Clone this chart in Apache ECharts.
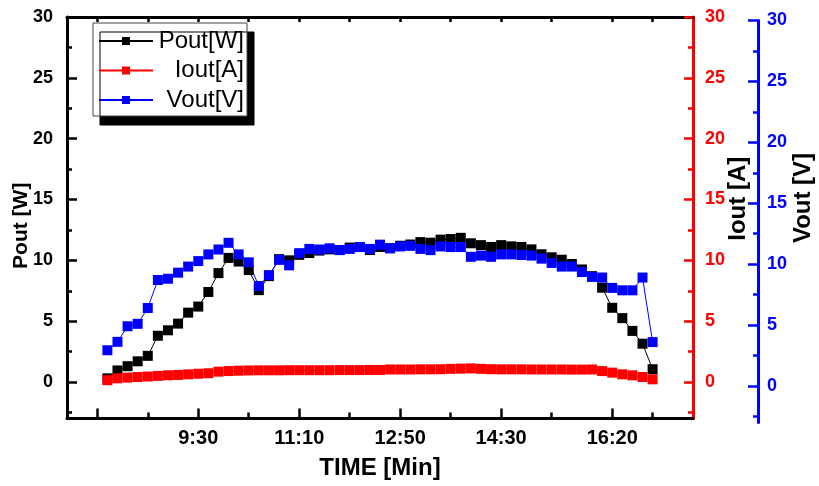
<!DOCTYPE html>
<html><head><meta charset="utf-8">
<script src="https://cdn.jsdelivr.net/npm/echarts@6/dist/echarts.min.js"></script>
<style>html,body{margin:0;padding:0;background:#fff}#c{width:819px;height:486px}</style>
</head><body><div id="c"></div>
<script>
const timeLabels = ["8:00","8:10","8:20","8:30","8:40","8:50","9:00","9:10","9:20","9:30","9:40","9:50",
  "10:00","10:10","10:20","10:30","10:40","10:50","11:00","11:10","11:20","11:30","11:40","11:50",
  "12:00","12:10","12:20","12:30","12:40","12:50","13:00","13:10","13:20","13:30","13:40","13:50",
  "14:00","14:10","14:20","14:30","14:40","14:50","15:00","15:10","15:20","15:30","15:40","15:50",
  "16:00","16:10","16:20","16:30","16:40","16:50","17:00"];
const pout = [0.3,0.95,1.3,1.7,2.15,3.8,4.25,4.8,5.7,6.2,7.4,8.95,
  10.2,9.9,9.2,7.55,8.7,10.1,10.0,10.45,10.6,10.8,10.9,10.85,
  11.05,11.1,10.85,11.1,11.0,11.2,11.3,11.5,11.45,11.7,11.75,11.85,
  11.4,11.25,11.1,11.25,11.15,11.1,10.9,10.5,10.25,10.05,9.7,9.25,
  8.7,7.75,6.1,5.25,4.2,3.15,1.05];
const iout = [0.15,0.3,0.36,0.41,0.45,0.5,0.55,0.58,0.63,0.68,0.72,0.85,
  0.9,0.93,0.95,0.96,0.96,0.96,0.97,0.97,0.97,0.97,0.97,0.98,
  0.98,0.98,0.99,0.99,1.03,1.03,1.03,1.04,1.04,1.05,1.08,1.1,
  1.12,1.08,1.05,1.04,1.04,1.04,1.03,1.03,1.03,1.03,1.02,1.02,
  1.03,0.9,0.77,0.63,0.55,0.41,0.22];
const vout = [2.93,3.62,4.9,5.1,6.4,8.7,8.8,9.3,9.8,10.25,10.8,11.2,
  11.75,10.8,10.15,8.2,9.1,10.35,9.9,10.9,11.25,11.2,11.3,11.15,
  11.25,11.4,11.25,11.6,11.3,11.45,11.5,11.25,11.15,11.45,11.4,11.4,
  10.6,10.7,10.6,10.8,10.8,10.75,10.7,10.45,10.1,9.8,9.8,9.35,
  8.95,8.9,8.05,7.85,7.85,8.9,3.6];
const xTickLabels = ["9:30","11:10","12:50","14:30","16:20"];
const xMajorTicks = ["7:50","9:30","11:10","12:50","14:30","16:20"];
const xMinorTicks = ["8:40","10:20","12:00","13:40","15:20","17:00"];
const yTicks = [0,5,10,15,20,25,30];
const yMinorTicks = [-2.5,2.5,7.5,12.5,17.5,22.5,27.5];

const toMin = s => { const p = s.split(':'); return (+p[0]) * 60 + (+p[1]); };
const fmt = v => Math.floor(v / 60) + ':' + String(v % 60).padStart(2, '0');
const tMin = timeLabels.map(toMin);
const FF = '"Liberation Sans", Arial, sans-serif';
const X_MIN = 440, X_MAX = 1060;

function minorY(grid, pos, color, offset) {
  return {gridIndex: grid, type: 'value', position: pos, offset: offset || 0, min: -3, max: 30,
    axisLine: {show: false, onZero: false}, splitLine: {show: false}, axisLabel: {show: false},
    axisTick: {show: true, inside: true, length: 5, customValues: yMinorTicks, lineStyle: {color: color, width: 2.5}}};
}

const chart = echarts.init(document.getElementById('c'), null, {renderer: 'canvas'});
chart.setOption({
  animation: false,
  backgroundColor: '#fff',
  textStyle: {fontFamily: FF},
  grid: [
    {left: 67, top: 17, width: 626, height: 401.5, containLabel: false, outerBoundsMode: 'none'},
    {left: 67, top: 20.5, width: 626, height: 402, containLabel: false, outerBoundsMode: 'none'}
  ],
  legend: {
    left: 93, top: 23, orient: 'vertical', itemWidth: 54, itemHeight: 10, itemGap: 5.5,
    padding: [6, 3, 4, 5], backgroundColor: '#fff', borderColor: '#444', borderWidth: 1,
    shadowColor: '#000', shadowOffsetX: 7, shadowOffsetY: 9, shadowBlur: 0,
    formatter: n => '{a|' + n + '}',
    textStyle: {fontFamily: FF, fontSize: 24, color: '#000',
      rich: {a: {width: 86, align: 'right', fontSize: 24, lineHeight: 24, color: '#000', fontFamily: FF}}},
    data: ['Pout[W]', 'Iout[A]', 'Vout[V]']
  },
  xAxis: [
    {gridIndex: 0, type: 'value', position: 'bottom', min: X_MIN, max: X_MAX,
      axisLine: {onZero: false, lineStyle: {color: '#000', width: 3}},
      axisTick: {inside: true, length: 10, customValues: xMajorTicks.map(toMin), lineStyle: {color: '#000', width: 2.5}},
      axisLabel: {customValues: xTickLabels.map(toMin), formatter: fmt, fontSize: 20, fontWeight: 'bold', color: '#000', margin: 10, fontFamily: FF},
      splitLine: {show: false},
      name: 'TIME [Min]', nameLocation: 'middle', nameGap: 38, nameMoveOverlap: false,
      nameTextStyle: {fontSize: 24, fontWeight: 'bold', color: '#000', fontFamily: FF}},
    {gridIndex: 0, type: 'value', position: 'bottom', min: X_MIN, max: X_MAX,
      axisLine: {show: false, onZero: false}, axisLabel: {show: false}, splitLine: {show: false},
      axisTick: {inside: true, length: 6, customValues: xMinorTicks.map(toMin), lineStyle: {color: '#000', width: 2.5}}},
    {gridIndex: 0, type: 'value', position: 'top', min: X_MIN, max: X_MAX,
      axisLine: {onZero: false, lineStyle: {color: '#000', width: 3}}, axisLabel: {show: false}, splitLine: {show: false},
      axisTick: {inside: true, length: 5, customValues: xMajorTicks.concat(xMinorTicks).map(toMin), lineStyle: {color: '#000', width: 2.5}}},
    {gridIndex: 1, type: 'value', show: false, min: X_MIN, max: X_MAX, axisLine: {onZero: false}}
  ],
  yAxis: [
    {gridIndex: 0, type: 'value', position: 'left', min: -3, max: 30,
      axisLine: {show: true, onZero: false, lineStyle: {color: '#000', width: 3}},
      axisTick: {show: true, inside: true, length: 10, customValues: yTicks, lineStyle: {color: '#000', width: 2.5}},
      axisLabel: {customValues: yTicks, fontSize: 18, fontWeight: 'bold', color: '#000', margin: 14, fontFamily: FF},
      splitLine: {show: false},
      name: 'Pout [W]', nameLocation: 'middle', nameGap: 35, nameRotate: 90, nameMoveOverlap: false,
      nameTextStyle: {fontSize: 21, fontWeight: 'bold', color: '#000', fontFamily: FF, padding: [0, 16, 0, 0]}},
    minorY(0, 'left', '#000'),
    {gridIndex: 0, type: 'value', position: 'right', min: -3, max: 30,
      axisLine: {show: true, onZero: false, lineStyle: {color: '#ff0000', width: 3}},
      axisTick: {show: true, inside: true, length: 9, customValues: yTicks, lineStyle: {color: '#ff0000', width: 2.5}},
      axisLabel: {customValues: yTicks, fontSize: 18, fontWeight: 'bold', color: '#ff0000', margin: 12, fontFamily: FF},
      splitLine: {show: false},
      name: 'Iout [A]', nameLocation: 'middle', nameGap: 33, nameRotate: 90, nameMoveOverlap: false,
      nameTextStyle: {fontSize: 24, fontWeight: 'bold', color: '#000', fontFamily: FF, padding: [0, 0, 0, 38]}},
    minorY(0, 'right', '#ff0000'),
    {gridIndex: 1, type: 'value', position: 'right', offset: 65, min: -3, max: 30,
      axisLine: {show: true, onZero: false, lineStyle: {color: '#0000ff', width: 3}},
      axisTick: {show: true, inside: true, length: 10, customValues: yTicks, lineStyle: {color: '#0000ff', width: 2.5}},
      axisLabel: {customValues: yTicks, fontSize: 18, fontWeight: 'bold', color: '#0000ff', margin: 9, fontFamily: FF},
      splitLine: {show: false},
      name: 'Vout [V]', nameLocation: 'middle', nameGap: 33, nameRotate: 90, nameMoveOverlap: false,
      nameTextStyle: {fontSize: 24, fontWeight: 'bold', color: '#000', fontFamily: FF, padding: [0, 0, 0, 47]}},
    minorY(1, 'right', '#0000ff', 65)
  ],
  series: [
    {name: 'Pout[W]', type: 'line', xAxisIndex: 0, yAxisIndex: 0,
      data: pout.map((v, i) => [tMin[i], v]), symbol: 'rect', symbolSize: 10,
      itemStyle: {color: '#000'}, lineStyle: {color: '#000', width: 1}},
    {name: 'Iout[A]', type: 'line', xAxisIndex: 0, yAxisIndex: 2,
      data: iout.map((v, i) => [tMin[i], v]), symbol: 'rect', symbolSize: 10,
      itemStyle: {color: '#ff0000'}, lineStyle: {color: '#ff0000', width: 1}},
    {name: 'Vout[V]', type: 'line', xAxisIndex: 3, yAxisIndex: 4,
      data: vout.map((v, i) => [tMin[i], v]), symbol: 'rect', symbolSize: 10,
      itemStyle: {color: '#0000ff'}, lineStyle: {color: '#0000ff', width: 1}}
  ]
});
</script>
</body></html>
